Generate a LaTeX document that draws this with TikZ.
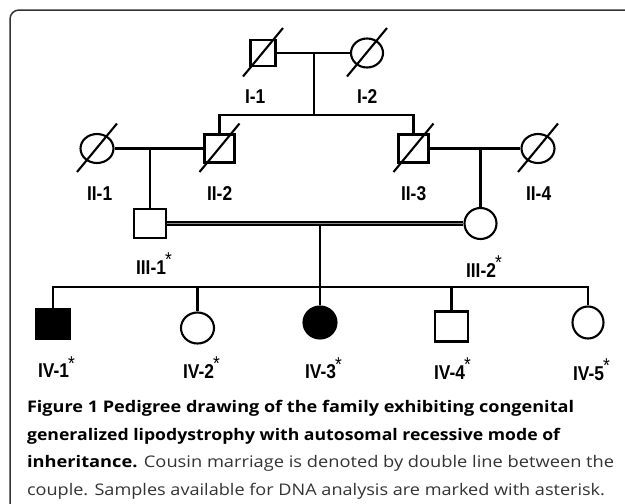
\documentclass[tikz,border=0pt]{standalone}
\usepackage{graphicx}
\usepackage{fontspec}
\setmainfont{Open Sans}
\newfontfamily\lblfont{Liberation Sans}[FakeStretch=0.87]
\usetikzlibrary{shapes.geometric,calc}

% asterisk marking a sampled individual
\newcommand\sampled{\kern-1pt\raisebox{7.5pt}{\mdseries\fontsize{20}{20}\selectfont *}}
% caption line set to a given width
\newcommand\capfit[2]{\resizebox{#1}{\height}{#2}}

\tikzset{
  male/.style 2 args={draw, rectangle, inner sep=0pt, minimum width=#1, minimum height=#2},
  female/.style 2 args={draw, ellipse, inner sep=0pt, minimum width=#1, minimum height=#2},
  affected/.style={fill=black},
  lbl/.style={anchor=base west, inner sep=0pt, font=\lblfont\bfseries\fontsize{20}{20}\selectfont},
  capline/.style={anchor=base west, inner sep=0pt, text=black!80, font=\fontsize{16}{16}\selectfont},
  capbold/.style={capline, text=black, font=\bfseries\fontsize{16}{16}\selectfont},
  consang/.style={double=black!45, double distance=1.5pt, line width=1.3pt},
}

\begin{document}
\begin{tikzpicture}[x=1pt, y=-1pt, line width=2.1pt]
\useasboundingbox (0,0) rectangle (625,504);

% panel frame
\draw[line width=1.5pt, black!80, rounded corners=9pt] (10,504) -- (10,10) -- (625,10);

% generation I
\node[male={25pt}{26pt}]   (I1) at (263,53) {};
\node[female={32pt}{29pt}] (I2) at (367,53) {};
% generation II
\node[female={33pt}{29pt}] (II1) at (97,148.5) {};
\node[male={30pt}{28pt}]   (II2) at (219.5,148.5) {};
\node[male={30pt}{28pt}]   (II3) at (413.5,148.5) {};
\node[female={33pt}{29pt}] (II4) at (538,148.5) {};
% generation III
\node[male={32pt}{29pt}]   (III1) at (150,223.5) {};
\node[female={32pt}{31pt}] (III2) at (480.5,223.5) {};
% generation IV
\node[male={33pt}{30pt}, affected]   (IV1) at (53,324) {};
\node[female={33pt}{31pt}]           (IV2) at (197.5,328) {};
\node[female={33pt}{32pt}, affected] (IV3) at (320,322.5) {};
\node[male={33pt}{30pt}]             (IV4) at (451.5,326.5) {};
\node[female={31pt}{32pt}]           (IV5) at (588,322.5) {};

% deceased marks
\foreach \p in {I1,I2,II1,II2,II3,II4}
  \draw ($(\p)+(-20,23.5)$) -- ($(\p)+(20,-25)$);

% marriage and sibship lines
\coordinate (m1) at (314,53);
\coordinate (s1) at (314,115);
\draw (I1) -- (I2);
\draw (m1) -- (s1);
\draw (II2.north) |- (s1) -| (II3.north);

\coordinate (m2) at (150,148.5);
\coordinate (m3) at (480.5,148.5);
\draw (II1) -- (II2);
\draw (II3) -- (II4);
\draw (m2) -- (III1.north);
\draw (m3) -- (III2.north);

\draw[consang] (III1) -- (III2);
\coordinate (m4) at (320,223.5);
\coordinate (s4) at (320,287);
\draw (m4) -- (IV3.north);
\draw (IV1.north) |- (s4) -| (IV5.north);
\draw (IV2.north) -- (IV2.north |- s4);
\draw (IV4.north) -- (IV4.north |- s4);

% labels
\node[lbl] (lI1) at (244,103) {I-1};
\node[lbl] (lI2) at (356,103) {I-2};
\node[lbl] (lII1) at (86,200.5) {II-1};
\node[lbl] (lII2) at (206,200.5) {II-2};
\node[lbl] (lII3) at (400,200.5) {II-3};
\node[lbl] (lII4) at (525,200.5) {II-4};
\node[lbl] (lIII1) at (135,274) {III-1\sampled};
\node[lbl] (lIII2) at (465,277) {III-2\sampled};
\node[lbl] (lIV1) at (37,377.5) {IV-1\sampled};
\node[lbl] (lIV2) at (182,378) {IV-2\sampled};
\node[lbl] (lIV3) at (304,378.5) {IV-3\sampled};
\node[lbl] (lIV4) at (433,379) {IV-4\sampled};
\node[lbl] (lIV5) at (572,380) {IV-5\sampled};

% caption
\node[capbold] (c1) at (26,412) {\capfit{547pt}{Figure 1 Pedigree drawing of the family exhibiting congenital}};
\node[capbold] (c2) at (26,440) {\capfit{533pt}{generalized lipodystrophy with autosomal recessive mode of}};
\node[capline] (c3) at (26,467.5) {\capfit{587pt}{{\bfseries\color{black}inheritance.} Cousin marriage is denoted by double line between the}};
\node[capline] (c4) at (26,495) {\capfit{578pt}{couple. Samples available for DNA analysis are marked with asterisk.}};
\end{tikzpicture}
\end{document}
